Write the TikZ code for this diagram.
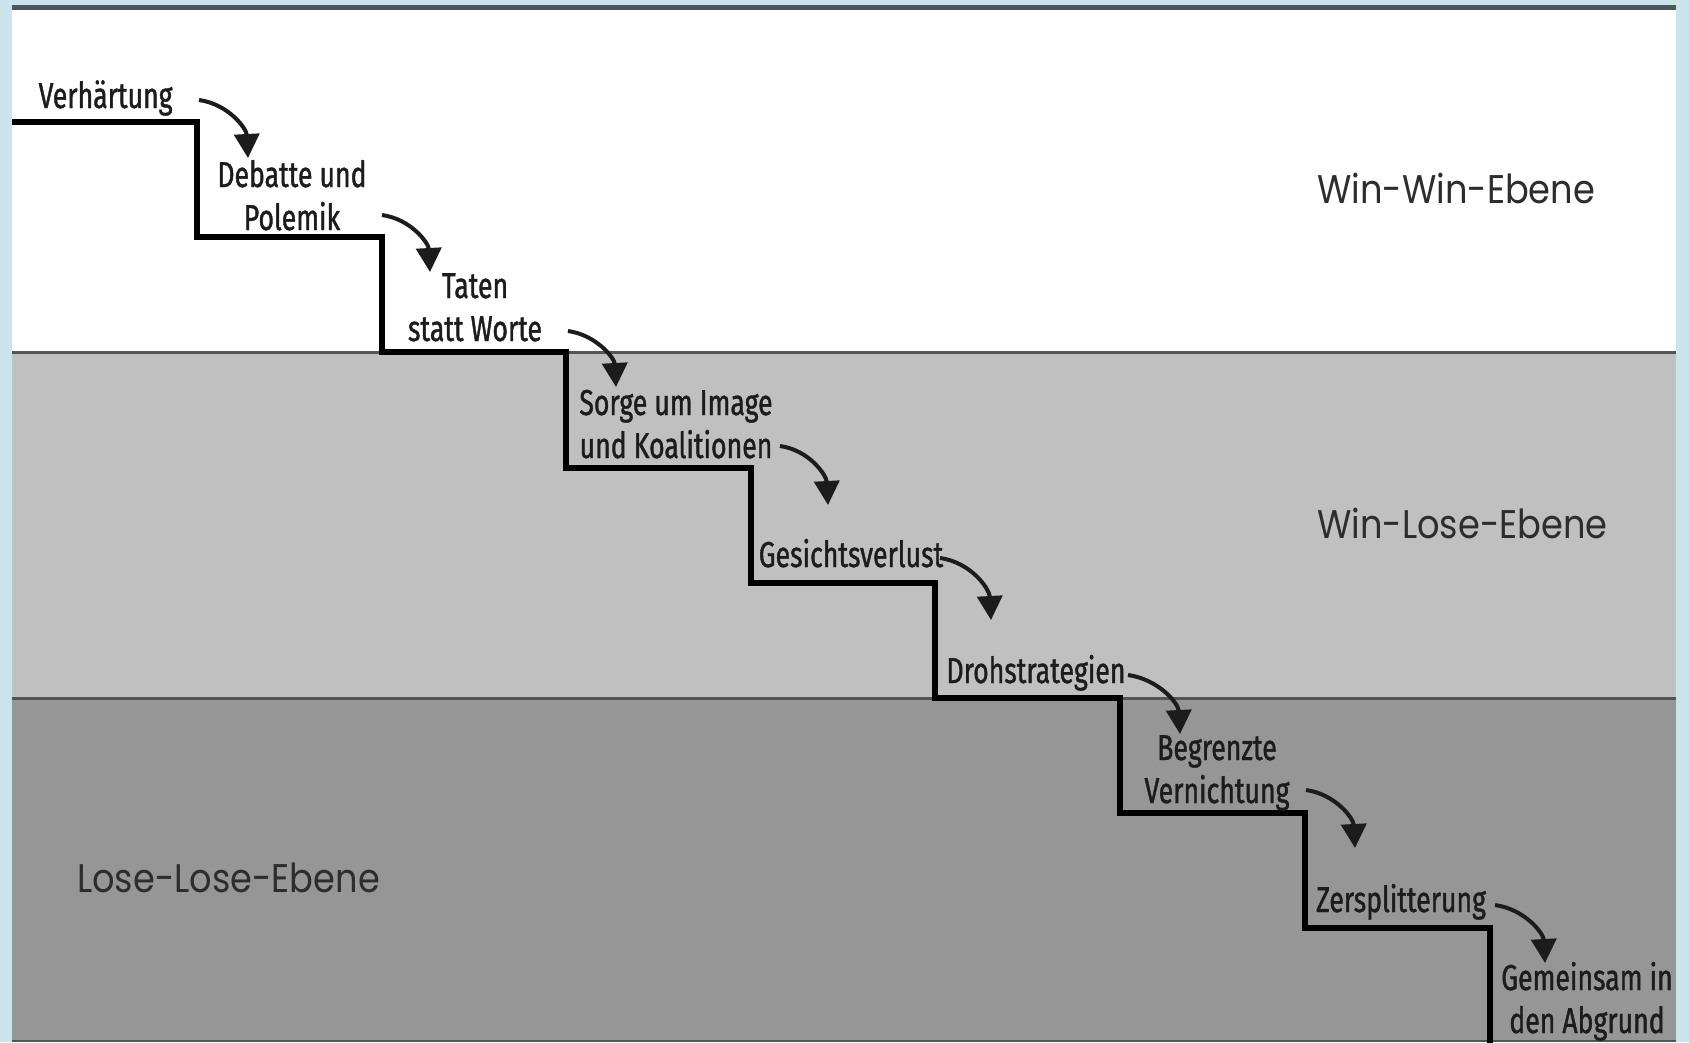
\documentclass[tikz,border=0pt]{standalone}
\usepackage{fontspec}
\setmainfont{Liberation Sans}
\newfontfamily\stagefam[FakeStretch=0.74,FakeBold=1.1]{Fira Sans}
\newfontfamily\levelfam[FakeStretch=0.88]{Poppins}
\usetikzlibrary{arrows.meta}
\definecolor{outerblue}{RGB}{203,228,235}
\definecolor{bandlight}{RGB}{192,192,192}
\definecolor{banddark}{RGB}{150,150,150}
\definecolor{rulegray}{RGB}{85,85,85}
\definecolor{inkc}{RGB}{28,28,28}
\definecolor{levelink}{RGB}{45,45,45}
\newcommand\twolines[2]{\begin{tabular}[t]{@{}c@{}}#1\\#2\end{tabular}}
\begin{document}
\begin{tikzpicture}[x=1pt,y=1pt,
  stage/.style={font=\stagefam\fontsize{36}{43}\selectfont, text=inkc, anchor=base, inner sep=0pt},
  level/.style={font=\levelfam\fontsize{40}{48}\selectfont, text=levelink, anchor=base west, inner sep=0pt},
  flow/.style={line width=4pt, draw=inkc, -{Triangle[width=25pt,length=24pt]}},
  stair/.style={line width=5.5pt, draw=black, line join=miter},
  divider/.style={line width=3pt, draw=rulegray}]
\useasboundingbox (0,0) rectangle (1689,-1042);
% background and bands
\fill[outerblue] (0,0) rectangle (1689,-1042);
\fill[white] (12,-8) rectangle (1676,-352);
\fill[bandlight] (12,-352) rectangle (1676,-698);
\fill[banddark] (12,-698) rectangle (1676,-1042);
\draw[line width=5pt, draw=rulegray] (12,-7.5) -- (1676,-7.5);
\draw[divider] (12,-352) -- (1676,-352);
\draw[divider] (12,-698) -- (1676,-698);
\draw[line width=2pt, draw=rulegray] (12,-1041) -- (1676,-1041);
% staircase
\draw[stair] (12,-122) -- (197,-122) -- (197,-237) -- (382,-237) -- (382,-352)
  -- (566,-352) -- (566,-468) -- (751,-468) -- (751,-583) -- (935,-583)
  -- (935,-698) -- (1120,-698) -- (1120,-813) -- (1305,-813) -- (1305,-928)
  -- (1490,-928) -- (1490,-1045);
% level labels
\node[level] (winwin) at (1317,-203) {Win-Win-Ebene};
\node[level] (winlose) at (1317,-538) {Win-Lose-Ebene};
\node[level] (loselose) at (77,-892) {Lose-Lose-Ebene};
% stage labels
\node[stage] (s1) at (105.6,-108) {Verhärtung};
\node[stage] (s2) at (292,-187) {\twolines{Debatte und}{Polemik}};
\node[stage] (s3) at (475,-298) {\twolines{Taten}{statt Worte}};
\node[stage] (s4) at (676,-415) {\twolines{Sorge um Image}{und Koalitionen}};
\node[stage] (s5) at (851,-567) {Gesichtsverlust};
\node[stage] (s6) at (1036,-683) {Drohstrategien};
\node[stage] (s7) at (1217,-760) {\twolines{Begrenzte}{Vernichtung}};
\node[stage] (s8) at (1401,-912) {Zersplitterung};
\node[stage] (s9) at (1587,-990) {\twolines{Gemeinsam in}{den Abgrund}};
% arrow ends
\coordinate (a1) at (199,-100);  \coordinate (b1) at (248,-158);
\coordinate (a2) at (382,-215);  \coordinate (b2) at (430,-272);
\coordinate (a3) at (568,-331);  \coordinate (b3) at (616,-387);
\coordinate (a4) at (780,-446);  \coordinate (b4) at (828,-505);
\coordinate (a5) at (940,-558);  \coordinate (b5) at (991,-620);
\coordinate (a6) at (1128,-675); \coordinate (b6) at (1180,-734);
\coordinate (a7) at (1306,-790); \coordinate (b7) at (1355,-848);
\coordinate (a8) at (1495,-905); \coordinate (b8) at (1545,-963);
\foreach \i in {1,...,8}{
  \draw[flow] (a\i) to[out=-8,in=93] (b\i);
}
\end{tikzpicture}
\end{document}
